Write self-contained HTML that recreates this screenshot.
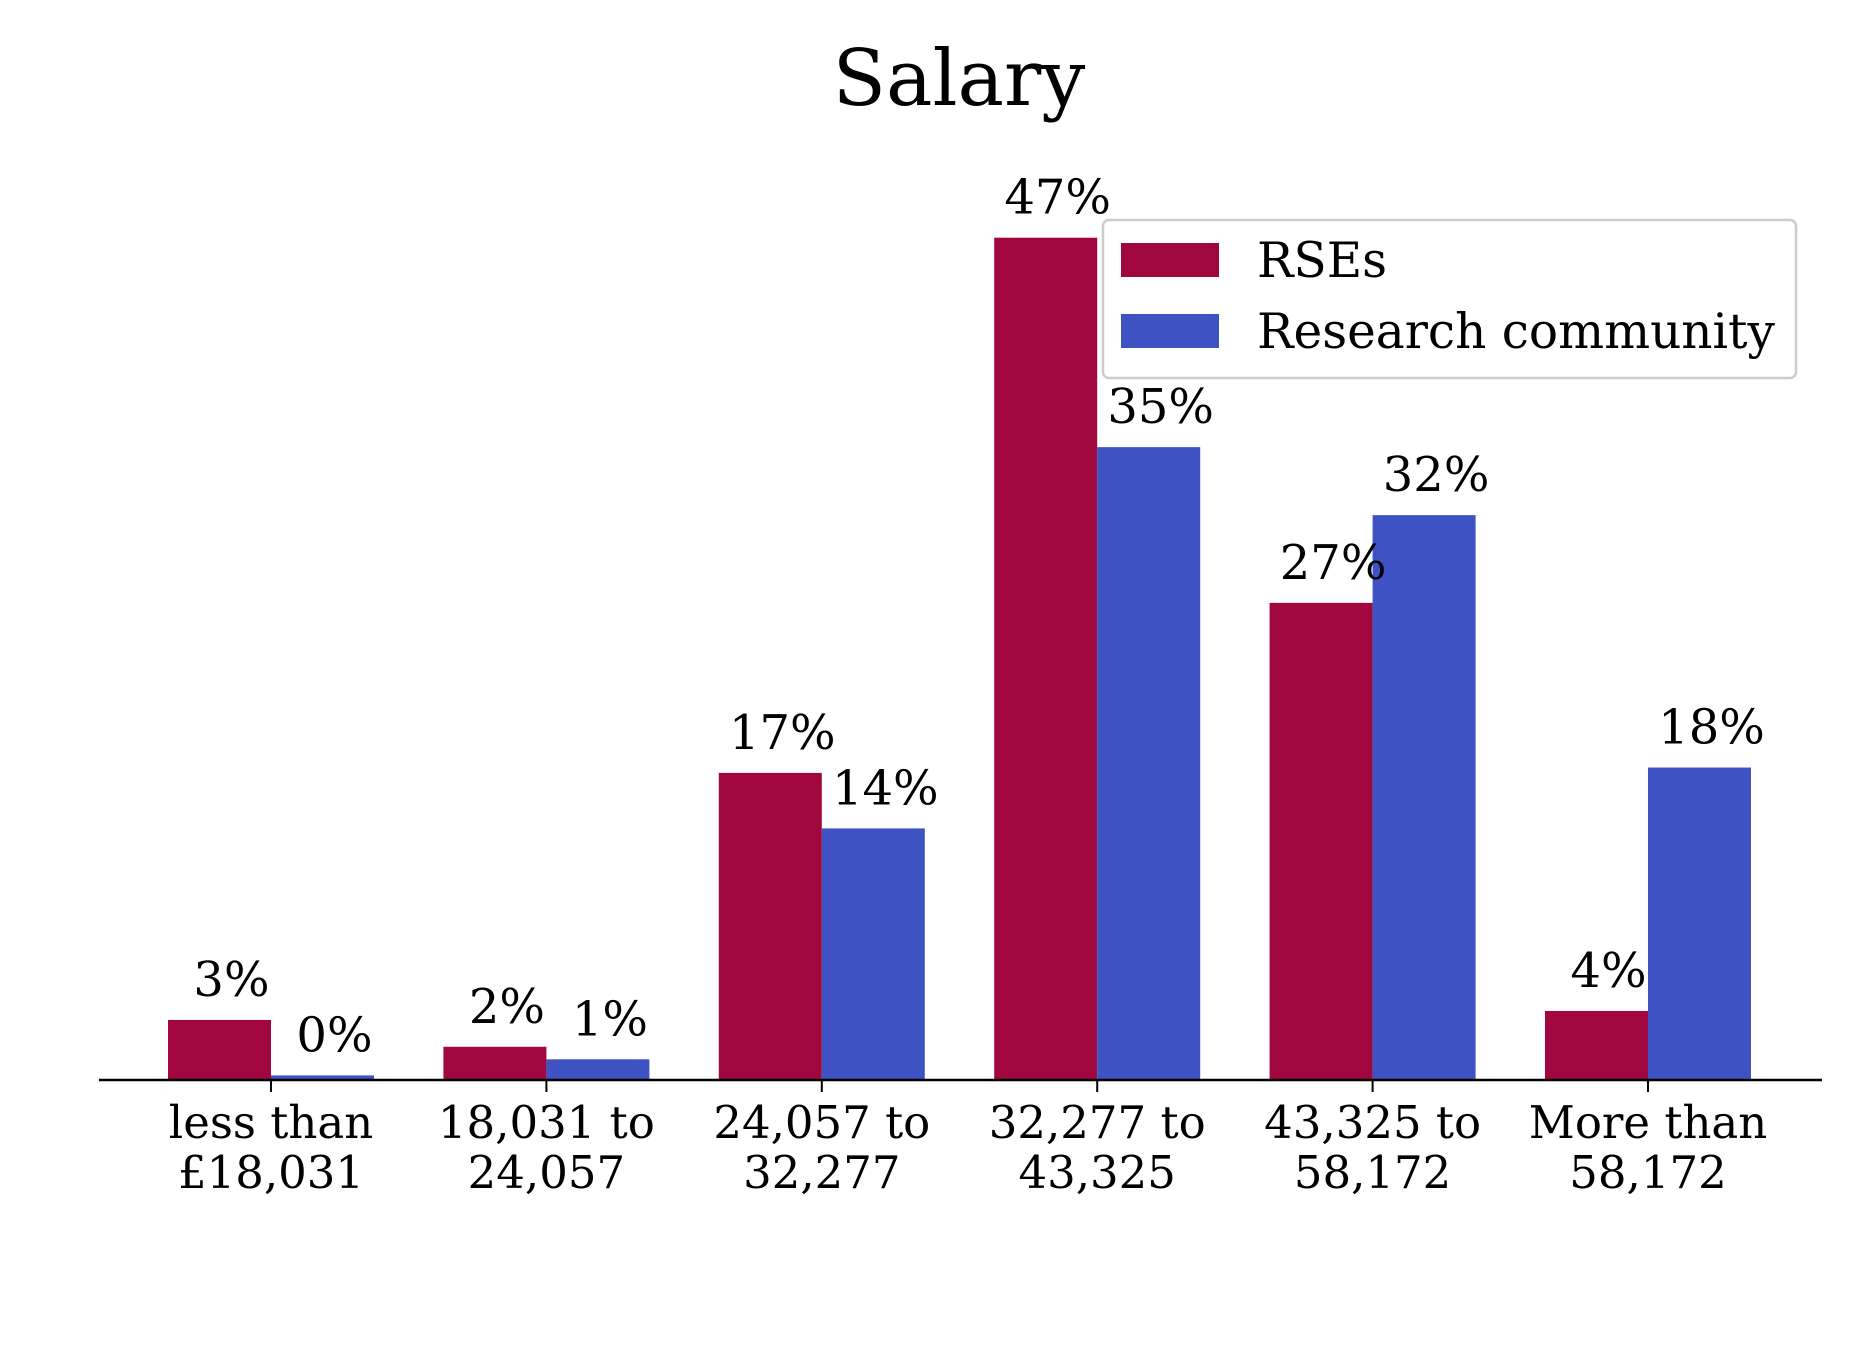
<!DOCTYPE html>
<html><head><meta charset="utf-8"><style>
html,body{margin:0;padding:0;background:#fff;}
svg{display:block;font-family:"DejaVu Serif","Liberation Serif",serif;}
</style></head><body>
<svg id="chart" width="1862" height="1350" viewBox="0 0 1862 1350" xmlns="http://www.w3.org/2000/svg">
<text x="959" y="105" font-size="78" text-anchor="middle">Salary</text>
<g id="bars"></g>
<g id="labels"></g>
<g id="xaxis"></g>
<g>
<rect x="1103" y="220" width="693" height="158" rx="6" fill="#fff" fill-opacity="0.8" stroke="#cccccc" stroke-width="2.5"/>
<rect x="1121" y="243" width="98" height="34" fill="#a1073f"/>
<text x="1257" y="277" font-size="48.5">RSEs</text>
<rect x="1121" y="314" width="98" height="34" fill="#3e52c4"/>
<text x="1257" y="348" font-size="48.5">Research community</text>
</g>
</svg>
<script>
const categories = [["less than","£18,031"],["18,031 to","24,057"],["24,057 to","32,277"],["32,277 to","43,325"],["43,325 to","58,172"],["More than","58,172"]];
const rseValues = [3.3, 1.8, 17.1, 47.0, 26.6, 3.8];
const researchValues = [0.2, 1.1, 14.0, 35.3, 31.5, 17.4];
const rseLabels = ["3%","2%","17%","47%","27%","4%"];
const researchLabels = ["0%","1%","14%","35%","32%","18%"];

const NS = "http://www.w3.org/2000/svg";
const baseY = 1079, pxPer = 17.9, x0 = 271, step = 275.4, bw = 103;
function xScale(i){ return x0 + i*step; }
function yScale(v){ return baseY - v*pxPer; }
const bars = document.getElementById('bars');
const labels = document.getElementById('labels');
const xaxis = document.getElementById('xaxis');
function mk(tag, attrs){ const e=document.createElementNS(NS,tag); for(const k in attrs) e.setAttribute(k,attrs[k]); return e; }
function drawSeries(vals, labs, offset, color, name){
  vals.forEach((v,i)=>{
    const x = xScale(i) + offset;
    const r = mk('rect',{x:x, y:yScale(v), width:bw, height:baseY-yScale(v), fill:color});
    
    
    bars.appendChild(r);
    const t = mk('text',{x:x+bw/2+12, y:yScale(v)-24, 'font-size':48, 'text-anchor':'middle'});
    
    
    t.textContent = labs[i];
    labels.appendChild(t);
  });
}
drawSeries(rseValues, rseLabels, -bw, '#a1073f', 'rses');
drawSeries(researchValues, researchLabels, 0, '#3e52c4', 'research');
const axisLine = mk('line',{x1:99, x2:1822, y1:baseY+1, y2:baseY+1, stroke:'#000', 'stroke-width':2.5});


xaxis.appendChild(axisLine);
categories.forEach((c,i)=>{
  const x = xScale(i);
  const tk = mk('line',{x1:x, x2:x, y1:baseY+2, y2:baseY+13, stroke:'#000', 'stroke-width':2});
  
  
  xaxis.appendChild(tk);
  const t = mk('text',{x:x, y:1138, 'font-size':45, 'text-anchor':'middle'});
  
  
  const s1 = mk('tspan',{x:x, dy:0}); s1.textContent = c[0];
  const s2 = mk('tspan',{x:x, dy:50}); s2.textContent = c[1];
  t.appendChild(s1); t.appendChild(s2);
  xaxis.appendChild(t);
});
</script>
</body></html>
